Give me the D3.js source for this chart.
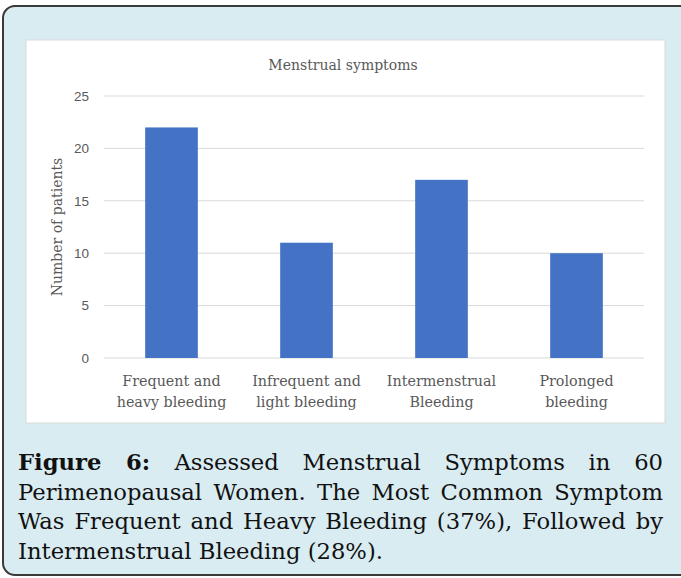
<!DOCTYPE html>
<html>
<head>
<meta charset="utf-8">
<script src="https://cdn.jsdelivr.net/npm/d3@7"></script>
<style>
  html, body { margin: 0; padding: 0; background: #fff; }
  svg { display: block; }
</style>
</head>
<body>
<svg id="chart"></svg>
<script>
// data
const categories = [["Frequent and", "heavy bleeding"], ["Infrequent and", "light bleeding"], ["Intermenstrual", "Bleeding"], ["Prolonged", "bleeding"]];
const patients = [22, 11, 17, 10];
const yTicks = [0, 5, 10, 15, 20, 25];
const captionLines = [
    "Assessed Menstrual Symptoms in 60",
    "Perimenopausal Women. The Most Common Symptom",
    "Was Frequent and Heavy Bleeding (37%), Followed by",
    "Intermenstrual Bleeding (28%)."
];

const W = 681, H = 578;
const svg = d3.select("#chart").attr("width", W).attr("height", H);

// outer caption box
svg.append("rect")
    .attr("x", 3).attr("y", 6)
    .attr("width", 720).attr("height", 569)
    .attr("rx", 12)
    .attr("fill", "#d9ecf1")
    .attr("stroke", "#3a3a3a")
    .attr("stroke-width", 2);

// white chart panel
svg.append("rect")
    .attr("x", 26).attr("y", 40)
    .attr("width", 639).attr("height", 383)
    .attr("fill", "#fff")
    .attr("stroke", "#d9d9d9")
    .attr("stroke-width", 1);

const serif = "'DejaVu Serif', serif";
const sans = "'Liberation Sans', Arial, sans-serif";
const grey = "#595959";

const x = d3.scaleBand()
    .domain(categories.map((d, i) => i))
    .range([104, 644])
    .paddingInner(0.61)
    .paddingOuter(0.305);

const y = d3.scaleLinear().domain([0, 25]).range([358, 96]);

// grid
svg.append("g")
    .selectAll("line")
    .data(yTicks)
    .enter()
    .append("line")
    .attr("x1", 104).attr("x2", 644)
    .attr("y1", d => y(d)).attr("y2", d => y(d))
    .attr("stroke", "#d9d9d9")
    .attr("stroke-width", 1);

// y tick labels
svg.append("g")
    .selectAll("text")
    .data(yTicks)
    .enter()
    .append("text")
    .attr("x", 89)
    .attr("y", d => y(d))
    .attr("dy", "0.35em")
    .attr("text-anchor", "end")
    .attr("font-family", sans)
    .attr("font-size", 13.5)
    .attr("fill", grey)
    .text(d => d);

// bars
svg.append("g")
    .selectAll("rect")
    .data(patients)
    .enter()
    .append("rect")
    .attr("x", (d, i) => x(i))
    .attr("y", d => y(d))
    .attr("width", x.bandwidth())
    .attr("height", d => y(0) - y(d))
    .attr("fill", "#4472c4");

// category labels
const cat = svg.append("g")
    .selectAll("text")
    .data(categories)
    .enter()
    .append("text")
    .attr("text-anchor", "middle")
    .attr("font-family", serif)
    .attr("font-size", 14.3)
    .attr("fill", grey);

cat.each(function (d, i) {
    const t = d3.select(this);
    d.forEach((line, k) => {
        t.append("tspan")
            .attr("x", x(i) + x.bandwidth() / 2)
            .attr("y", 386 + k * 21)
            .text(line);
    });
});

// chart title
svg.append("text")
    .attr("x", 343).attr("y", 70)
    .attr("text-anchor", "middle")
    .attr("font-family", serif)
    .attr("font-size", 14)
    .attr("fill", grey)
    .text("Menstrual symptoms");

// y axis title
svg.append("text")
    .attr("transform", "translate(62,227) rotate(-90)")
    .attr("text-anchor", "middle")
    .attr("font-family", serif)
    .attr("font-size", 14)
    .attr("fill", grey)
    .text("Number of patients");

// caption, justified between left and right margins
const capLeft = 18, capRight = 663, capSize = 22.7;
captionLines.forEach((line, i) => {
    const t = svg.append("text")
        .attr("y", 470 + i * 29.7)
        .attr("font-family", serif)
        .attr("font-size", capSize)
        .attr("fill", "#111");
    if (i === 0) {
        t.append("tspan").attr("font-weight", "bold").text("Figure 6: ");
    }
    t.append("tspan").text(line);
    t.attr("x", capLeft);
    if (i < captionLines.length - 1) {
        const full = (i === 0 ? "Figure 6: " : "") + line;
        const gaps = full.trim().split(/\s+/).length - 1;
        const len = t.node().getComputedTextLength();
        const extra = (capRight - capLeft - len) / gaps;
        t.attr("word-spacing", extra);
    }
});
</script>
</body>
</html>
